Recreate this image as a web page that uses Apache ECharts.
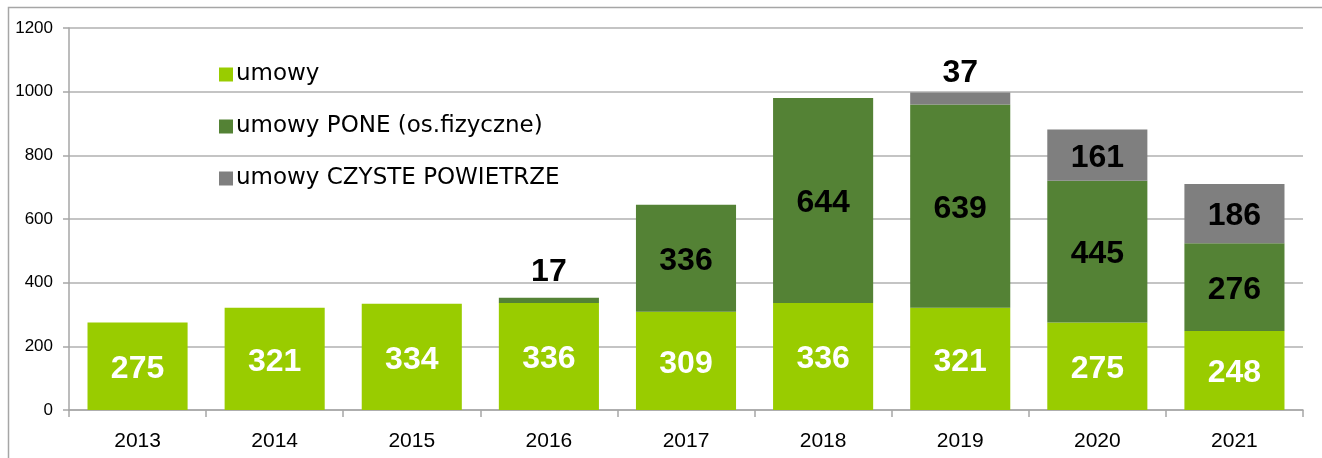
<!DOCTYPE html>
<html lang="pl">
<head>
    <meta charset="UTF-8">
    <title>umowy</title>
    <script src="https://cdn.jsdelivr.net/npm/echarts@6/dist/echarts.min.js"></script>
</head>
<style>
    html,body{
        margin:0;
        padding:0;
        background:#fff;
    }
    #chart{
        width:1322px;
        height:458px;
    }
</style>
<body>
    <div id="chart"></div>
    <script>
        var years=['2013','2014','2015','2016','2017','2018','2019','2020','2021'];
        var umowy=[275,321,334,336,309,336,321,275,248];
        var pone=[0,0,0,17,336,644,639,445,276];
        var czyste=[0,0,0,0,0,0,37,161,186];
        var yTicks=[0,200,400,600,800,1000,1200];

        var font='"Liberation Sans", Arial, sans-serif';
        var chart=echarts.init(document.getElementById('chart'));

        // segments that are too thin get their label above the bar
        function withLabels(arr,smallOffset){
            return arr.map(function(v,i){
                if(v===0) return {value:v,label:{show:false}};
                if(v<50) return {value:v,label:{position:'top',distance:4,offset:[0,smallOffset[i]||0]}};
                return v;
            });
        }

        var option={
            animation:false,
            graphic:[{
                type:'rect',
                shape:{x:8.5,y:7.5,width:1330,height:470},
                style:{fill:'none',stroke:'#a6a6a6',lineWidth:1.5},
                silent:true
            }],
            grid:{left:69,right:19,top:28,bottom:48},
            legend:{
                orient:'vertical',
                left:214,
                top:58,
                itemGap:29,
                itemWidth:14,
                itemHeight:14,
                icon:'rect',
                textStyle:{fontFamily:'"DejaVu Sans", sans-serif',fontSize:23,color:'#000',padding:[0,0,0,-2]},
                data:['umowy','umowy PONE (os.fizyczne)','umowy CZYSTE POWIETRZE']
            },
            xAxis:{
                type:'category',
                data:years,
                axisLine:{lineStyle:{color:'#a6a6a6',width:1.5}},
                axisTick:{show:true,length:7,lineStyle:{color:'#a6a6a6',width:1.5}},
                axisLabel:{fontFamily:font,fontSize:21,color:'#000',margin:21}
            },
            yAxis:{
                type:'value',
                min:yTicks[0],
                max:yTicks[yTicks.length-1],
                interval:200,
                axisLine:{show:true,lineStyle:{color:'#a6a6a6',width:1.5}},
                axisTick:{show:true,length:6,lineStyle:{color:'#a6a6a6',width:1.5}},
                splitLine:{lineStyle:{color:'#b0b0b0',width:1.5}},
                axisLabel:{fontFamily:font,fontSize:17,color:'#000',margin:16,formatter:function(v){return String(v);}}
            },
            series:[
                {
                    name:'umowy',
                    type:'bar',
                    stack:'s',
                    barCategoryGap:'27%',
                    itemStyle:{color:'#99cc00'},
                    label:{show:true,position:'inside',color:'#fff',fontFamily:font,fontWeight:'bold',fontSize:32,offset:[0,3]},
                    data:umowy
                },
                {
                    name:'umowy PONE (os.fizyczne)',
                    type:'bar',
                    stack:'s',
                    itemStyle:{color:'#548235'},
                    label:{show:true,position:'inside',color:'#000',fontFamily:font,fontWeight:'bold',fontSize:32,offset:[0,3]},
                    data:withLabels(pone,{3:-5})
                },
                {
                    name:'umowy CZYSTE POWIETRZE',
                    type:'bar',
                    stack:'s',
                    itemStyle:{color:'#7f7f7f'},
                    label:{show:true,position:'inside',color:'#000',fontFamily:font,fontWeight:'bold',fontSize:32,offset:[0,3]},
                    data:withLabels(czyste,{6:1})
                }
            ]
        };
        chart.setOption(option);
    </script>
</body>
</html>
